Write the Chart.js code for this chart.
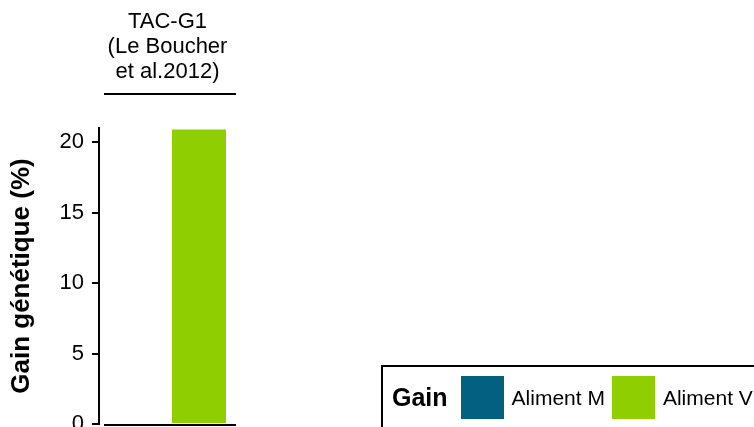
<!DOCTYPE html>
<html>
<head>
<meta charset="utf-8">
<script src="https://cdn.jsdelivr.net/npm/chart.js@4"></script>
<style>
    body { margin: 0; overflow: hidden; background: #fff; font-family: "Liberation Sans", Arial, sans-serif; }
    #wrap { position: relative; width: 754px; height: 427px; overflow: hidden; }
    #legend {
        position: absolute; left: 381px; top: 365px; height: 90px; width: 420px;
        border: 2px solid #000; box-sizing: border-box; display: flex; align-items: flex-start;
        padding: 9px 0 0 9px;
    }
    #legend .title { font-weight: bold; font-size: 25px; line-height: 43px; margin-right: 13px; }
    #legend .sw { width: 43px; height: 43px; margin-right: 8px; }
    #legend .lab { font-size: 21px; line-height: 43px; margin-right: 7px; }
</style>
</head>
<body>
<div id="wrap">
    <canvas id="chart" width="754" height="427"></canvas>
    <div id="legend"></div>
</div>
<script>
// data
const categories = [['TAC-G1', '(Le Boucher', 'et al.2012)']];
const alimentM = [null];
const alimentV = [20.9];
const seriesLabels = ['Aliment M', 'Aliment V'];
const seriesColors = ['#03607f', '#8fce00'];
const yTicks = [0, 5, 10, 15, 20];

// facet underline + bottom axis line
const lines = {
    id: 'lines',
    afterDraw(chart) {
        const ctx = chart.ctx;
        const a = chart.chartArea;
        const y0 = chart.scales.y.getPixelForValue(0);
        ctx.save();
        ctx.strokeStyle = '#000';
        ctx.lineWidth = 2;
        ctx.beginPath();
        ctx.moveTo(a.left + 5, a.top - 34);
        ctx.lineTo(a.right, a.top - 34);
        ctx.moveTo(a.left + 5, y0 + 1);
        ctx.lineTo(a.right, y0 + 1);
        ctx.stroke();
        ctx.restore();
    }
};

const chart = new Chart(document.getElementById('chart'), {
    type: 'bar',
    data: {
        labels: categories,
        datasets: [
            {label: seriesLabels[0], data: alimentM, backgroundColor: seriesColors[0]},
            {label: seriesLabels[1], data: alimentV, backgroundColor: seriesColors[1]}
        ]
    },
    options: {
        responsive: false,
        animation: false,
        categoryPercentage: 0.92,
        barPercentage: 0.857,
        layout: {padding: {left: 0, right: 518, top: 0, bottom: 3}},
        plugins: {legend: {display: false}, tooltip: {enabled: false}},
        scales: {
            x: {
                position: 'top',
                grid: {display: false, drawTicks: false},
                border: {display: false},
                ticks: {
                    color: '#000', maxRotation: 0, padding: 43,
                    font: {family: 'Liberation Sans', size: 22, lineHeight: 1.15}
                },
                afterFit(scale) { scale.height = 128; }
            },
            y: {
                min: 0,
                max: 21,
                afterBuildTicks(scale) { scale.ticks = yTicks.map(v => ({value: v})); },
                grid: {drawOnChartArea: false, tickLength: 7, tickColor: '#000', lineWidth: 2},
                border: {display: true, color: '#000', width: 2},
                ticks: {color: '#000', padding: 8, font: {family: 'Liberation Sans', size: 22}},
                title: {
                    display: true, text: 'Gain génétique (%)', color: '#000',
                    padding: {top: 6, bottom: 0},
                    font: {family: 'Liberation Sans', size: 26, weight: 'bold'}
                },
                afterFit(scale) {
                    scale.width = 99;
                    scale.paddingTop = 0;
                    scale.paddingBottom = 0;
                }
            }
        }
    },
    plugins: [lines]
});

// legend built from the datasets
const legend = document.getElementById('legend');
legend.innerHTML = '<span class="title">Gain</span>' + chart.data.datasets.map(ds =>
    `<span class="sw" style="background:${ds.backgroundColor}"></span><span class="lab">${ds.label}</span>`
).join('');
</script>
</body>
</html>
